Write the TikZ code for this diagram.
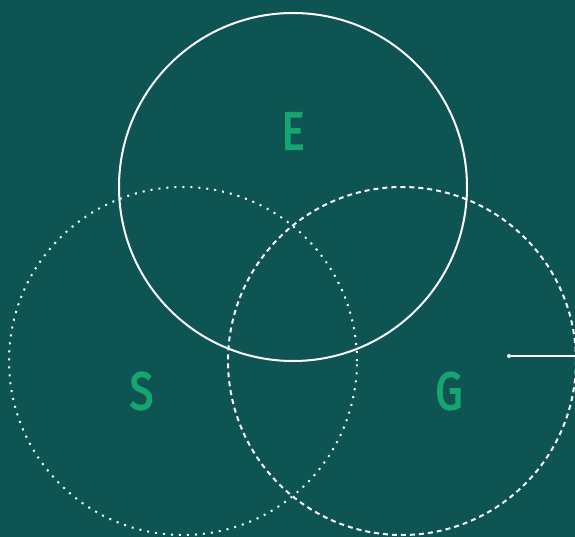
\documentclass[tikz,border=0pt]{standalone}
\usepackage{fontspec}
\newfontfamily\lblfont[FakeBold=3]{Fira Sans}
\definecolor{bgteal}{RGB}{13,84,83}
\definecolor{lblgreen}{RGB}{22,164,112}
\begin{document}
\begin{tikzpicture}[x=1pt,y=-1pt,
  ring/.style={circle,draw=white,line width=2pt,minimum size=348pt,inner sep=0pt},
  lbl/.style={text=lblgreen,font=\lblfont\fontsize{53}{53}\selectfont,xscale=0.82,transform shape,inner sep=0pt}]
\fill[bgteal] (0,0) rectangle (575,537);
\useasboundingbox (0,0) rectangle (575,537);
\node[ring] (ce) at (293,187) {};
\node[ring,dash pattern=on 2pt off 6pt] (cs) at (183,361) {};
\node[ring,dash pattern=on 5pt off 4pt] (cg) at (402,361) {};
\node[lbl] (le) at (293,131) {E};
\node[lbl] (ls) at (141.5,391) {S};
\node[lbl] (lg) at (449,391) {G};
\coordinate (p1) at (509,356);
\coordinate (p2) at (577,356);
\draw[white,line width=1.5pt] (p1) -- (p2);
\fill[white] (p1) circle (2pt);
\end{tikzpicture}
\end{document}
